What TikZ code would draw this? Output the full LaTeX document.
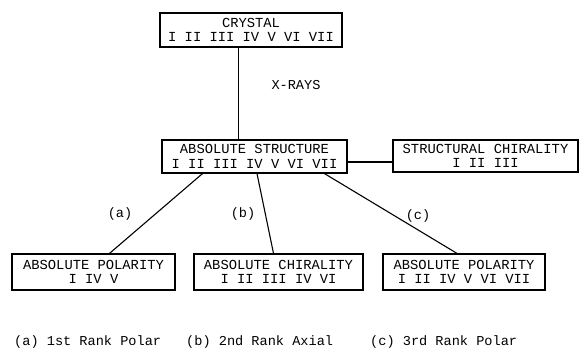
\documentclass[tikz,border=0pt]{standalone}
\usepackage{fontspec}
\setmonofont{Liberation Mono}
\usetikzlibrary{calc}
\tikzset{
  box/.style={
    draw=black,fill=white,line width=1.2pt,inner sep=0pt,
    minimum height=35pt,align=center,
    font=\ttfamily\fontsize{13.8}{14.5}\selectfont
  },
  link/.style={draw=black,line width=1.1pt},
  tag/.style={inner sep=0pt,font=\ttfamily\fontsize{13.6}{14}\selectfont}
}

\begin{document}
\begin{tikzpicture}[x=1pt,y=-1pt]
\useasboundingbox (0,0) rectangle (581,353);

\node[box,minimum width=182pt,minimum height=34pt] (cr) at (251,30) {CRYSTAL\\I II III IV V VI VII};
\node[box,minimum width=185pt,minimum height=33pt] (as) at (254.5,156.5) {ABSOLUTE STRUCTURE\\I II III IV V VI VII};
\node[box,minimum width=185pt,minimum height=32pt] (sc) at (485.5,156) {STRUCTURAL CHIRALITY\\I II III};

\node[box,minimum width=163pt,minimum height=36pt] (pa) at (93.5,272) {ABSOLUTE POLARITY\\I IV V};
\node[box,minimum width=169pt,minimum height=36pt] (ch) at (278.5,272) {ABSOLUTE CHIRALITY\\I II III IV VI};
\node[box,minimum width=162pt,minimum height=36pt] (pc) at (464,272) {ABSOLUTE POLARITY\\I II IV V VI VII};

% connectors
\draw[link,line width=.8pt] ($(cr.south)+(-13,0)$) -- ($(as.north)+(-16.5,0)$);
\draw[link] ($(as.east)+(0,5.5)$) -- ($(sc.west)+(0,6)$);
\draw[link] ($(as.south)+(-52,0)$) -- ($(pa.north)+(16,0)$);
\draw[link] ($(as.south)+(2.5,0)$) -- ($(ch.north)+(-5,0)$);
\draw[link] ($(as.south)+(70,0)$) -- ($(pc.north)+(-7,0)$);

% labels
\node[tag] (xr) at (296,85) {X-RAYS};
\node[tag] (la) at (120,214) {(a)};
\node[tag] (lb) at (243,214) {(b)};
\node[tag] (lc) at (418,216) {(c)};

% caption
\node[tag,anchor=west] (ka) at (14,342) {(a) 1st Rank Polar};
\node[tag,anchor=west] (kb) at (186,342) {(b) 2nd Rank Axial};
\node[tag,anchor=west] (kc) at (370,342) {(c) 3rd Rank Polar};
\end{tikzpicture}
\end{document}
